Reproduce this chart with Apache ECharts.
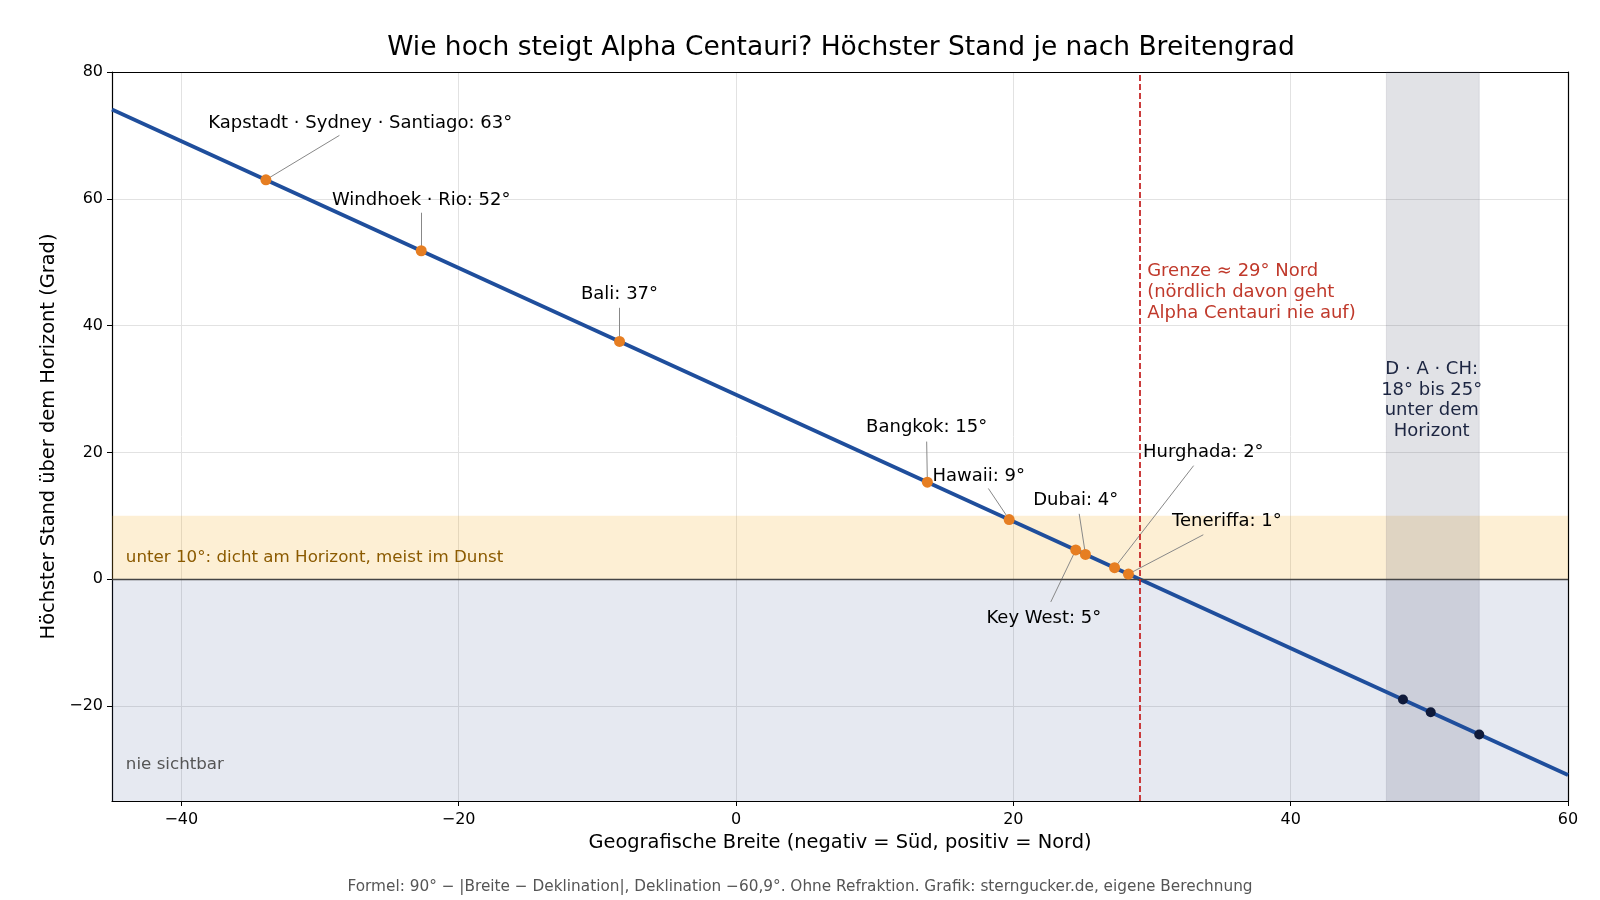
<!DOCTYPE html>
<html><head><meta charset="utf-8">
<script src="https://cdn.jsdelivr.net/npm/echarts@6/dist/echarts.min.js"></script>
<style>html,body{margin:0;padding:0;background:#fff}#c{width:1600px;height:900px}</style>
</head><body><div id="c"></div>
<script>
// ---- data ----
const placeNames = ['Kapstadt · Sydney · Santiago', 'Windhoek · Rio', 'Bali', 'Bangkok', 'Hawaii', 'Dubai', 'Key West', 'Hurghada', 'Teneriffa'];
const placeLat = [-33.9, -22.7, -8.4, 13.8, 19.7, 25.2, 24.5, 27.3, 28.3];
const placeAlt = [63.0, 51.8, 37.5, 15.3, 9.4, 3.9, 4.6, 1.8, 0.8];
const placeDeg = [63, 52, 37, 15, 9, 4, 5, 2, 1];
const dachLat = [48.1, 50.1, 53.6];
const dachAlt = [-19.0, -21.0, -24.5];
const curveLat = [-45, 60];
const curveAlt = [74.1, -30.9];
const boundaryLat = 29.1;
const hazeBand = [0, 10];
const neverBand = [-35, 0];
const dachBand = [46.9, 53.6];
const xTicks = [-40, -20, 0, 20, 40, 60];
const yTicks = [-20, 0, 20, 40, 60, 80];

// ---- annotation layout (data coordinates): text centre, leader start ----
const labelAt = [[-27.1, 72.2], [-22.7, 60.1], [-8.4, 45.2], [13.75, 24.2], [17.5, 16.6], [24.5, 12.7], [22.2, -5.8], [33.7, 20.3], [35.4, 9.4]];
const leaderFrom = [[-28.6, 70.0], [-22.7, 57.8], [-8.4, 42.8], [13.75, 21.7], [18.2, 14.3], [24.75, 10.3], [22.7, -3.6], [33.0, 17.9], [33.7, 7.0]];

const FONT = 'DejaVu Sans';
const fmt = v => String(v).replace('-', '\u2212');

const chart = echarts.init(document.getElementById('c'));
const notes = [
  { value: [29.65, 45.5], text: 'Grenze \u2248 29\u00b0 Nord\n(n\u00f6rdlich davon geht\nAlpha Centauri nie auf)', color: '#c0392b', align: 'left', size: 18, lh: 21 },
  { value: [50.17, 28.5], text: 'D \u00b7 A \u00b7 CH:\n18\u00b0 bis 25\u00b0\nunter dem\nHorizont', color: '#1c2541', align: 'center', size: 18, lh: 20.5 },
  { value: [-44.0, 3.7], text: 'unter 10\u00b0: dicht am Horizont, meist im Dunst', color: '#8b5a00', align: 'left', size: 16.7, lh: 20 },
  { value: [-44.0, -29.0], text: 'nie sichtbar', color: '#555555', align: 'left', size: 16.7, lh: 20 }
];

chart.setOption({
  animation: false,
  backgroundColor: '#fff',
  textStyle: { fontFamily: FONT },
  title: {
    text: 'Wie hoch steigt Alpha Centauri? H\u00f6chster Stand je nach Breitengrad',
    left: 836, top: 30, textAlign: 'center',
    textStyle: { fontFamily: FONT, fontSize: 26.5, fontWeight: 'normal', color: '#000' }
  },
  graphic: [{
    type: 'text', x: 800, y: 887,
    style: {
      text: 'Formel: 90\u00b0 \u2212 |Breite \u2212 Deklination|, Deklination \u221260,9\u00b0. Ohne Refraktion. Grafik: sterngucker.de, eigene Berechnung',
      font: '15.3px "DejaVu Sans"', fill: '#555', align: 'center', verticalAlign: 'middle',
      textAlign: 'center', textVerticalAlign: 'middle'
    }
  }],
  grid: { left: 112, right: 32, top: 72, bottom: 99 },
  xAxis: [{
    type: 'value', min: -45, max: 60,
    name: 'Geografische Breite (negativ = S\u00fcd, positiv = Nord)',
    nameLocation: 'middle', nameGap: 32,
    nameTextStyle: { fontFamily: FONT, fontSize: 19.4, color: '#000' },
    axisLine: { show: true, onZero: false, lineStyle: { color: '#000', width: 1.2 } },
    axisTick: { show: true, length: 5, customValues: xTicks, lineStyle: { color: '#000', width: 1 } },
    axisLabel: { customValues: xTicks, formatter: fmt, fontSize: 16, color: '#000', margin: 11, fontFamily: FONT },
    splitLine: { show: true, lineStyle: { color: '#e2e2e2', width: 1 } }
  }, {
    type: 'value', min: -45, max: 60, position: 'top',
    axisLine: { show: true, onZero: false, lineStyle: { color: '#000', width: 1.2 } },
    axisTick: { show: false }, axisLabel: { show: false }, splitLine: { show: false }
  }],
  yAxis: [{
    type: 'value', min: -35, max: 80,
    name: 'H\u00f6chster Stand \u00fcber dem Horizont (Grad)',
    nameLocation: 'middle', nameGap: 50,
    nameTextStyle: { fontFamily: FONT, fontSize: 19.4, color: '#000' },
    axisLine: { show: true, onZero: false, lineStyle: { color: '#000', width: 1.2 } },
    axisTick: { show: true, length: 5, customValues: yTicks, lineStyle: { color: '#000', width: 1 } },
    axisLabel: { customValues: yTicks, formatter: fmt, fontSize: 16, color: '#000', margin: 9, fontFamily: FONT },
    splitLine: { show: true, lineStyle: { color: '#e2e2e2', width: 1 } }
  }, {
    type: 'value', min: -35, max: 80, position: 'right',
    axisLine: { show: true, onZero: false, lineStyle: { color: '#000', width: 1.2 } },
    axisTick: { show: false }, axisLabel: { show: false }, splitLine: { show: false }
  }],
  series: [
    {
      name: 'bands', type: 'line', data: [], z: 1, silent: true,
      markArea: {
        silent: true,
        data: [
          [{ xAxis: curveLat[0], yAxis: neverBand[0], itemStyle: { color: 'rgba(47,72,138,0.12)' } }, { xAxis: curveLat[1], yAxis: neverBand[1] }],
          [{ xAxis: curveLat[0], yAxis: hazeBand[0], itemStyle: { color: 'rgba(245,175,40,0.2)' } }, { xAxis: curveLat[1], yAxis: hazeBand[1] }],
          [{ xAxis: dachBand[0], yAxis: -35, itemStyle: { color: 'rgba(70,75,100,0.16)', borderColor: 'rgba(70,75,100,0.12)', borderWidth: 1 } }, { xAxis: dachBand[1], yAxis: 80 }]
        ]
      },
      markLine: {
        silent: true, symbol: ['none', 'none'], label: { show: false },
        data: [
          { yAxis: 0, lineStyle: { color: '#444', width: 1.3, type: 'solid' } },
          { xAxis: boundaryLat, lineStyle: { color: '#c62828', width: 1.8, type: [6, 3] } }
        ]
      }
    },
    {
      name: 'curve', type: 'line', z: 3, silent: true, symbol: 'none',
      data: curveLat.map((x, i) => [x, curveAlt[i]]),
      lineStyle: { color: '#1f4e9c', width: 3.8 }
    },
    {
      name: 'leaders', type: 'lines', coordinateSystem: 'cartesian2d', z: 4, silent: true,
      lineStyle: { color: '#888', width: 1, opacity: 1 },
      data: placeLat.map((x, i) => ({ coords: [leaderFrom[i], [x, placeAlt[i]]] }))
    },
    {
      name: 'places', type: 'scatter', z: 5, silent: true, symbolSize: 11,
      itemStyle: { color: '#e67e22', opacity: 1 },
      data: placeLat.map((x, i) => [x, placeAlt[i]])
    },
    {
      name: 'dach', type: 'scatter', z: 5, silent: true, symbolSize: 10,
      itemStyle: { color: '#0f1a3a', opacity: 1 },
      data: dachLat.map((x, i) => [x, dachAlt[i]])
    },
    {
      name: 'placeLabels', type: 'scatter', z: 6, silent: true, symbolSize: 1,
      itemStyle: { color: 'rgba(0,0,0,0)', opacity: 1 },
      label: { show: true, position: 'inside', offset: [0, 2], formatter: '{b}', fontSize: 18, color: '#000', fontFamily: FONT, opacity: 1 },
      data: labelAt.map((p, i) => ({ name: placeNames[i] + ': ' + placeDeg[i] + '\u00b0', value: p }))
    },
    {
      name: 'notes', type: 'scatter', z: 6, silent: true, symbolSize: 1,
      itemStyle: { color: 'rgba(0,0,0,0)', opacity: 1 },
      data: notes.map(n => ({
        value: n.value,
        label: {
          show: true, position: 'inside', offset: [0, 2], formatter: n.text, color: n.color, align: n.align, opacity: 1,
          verticalAlign: 'middle', fontSize: n.size, lineHeight: n.lh, fontFamily: FONT
        }
      }))
    }
  ]
});
</script></body></html>
